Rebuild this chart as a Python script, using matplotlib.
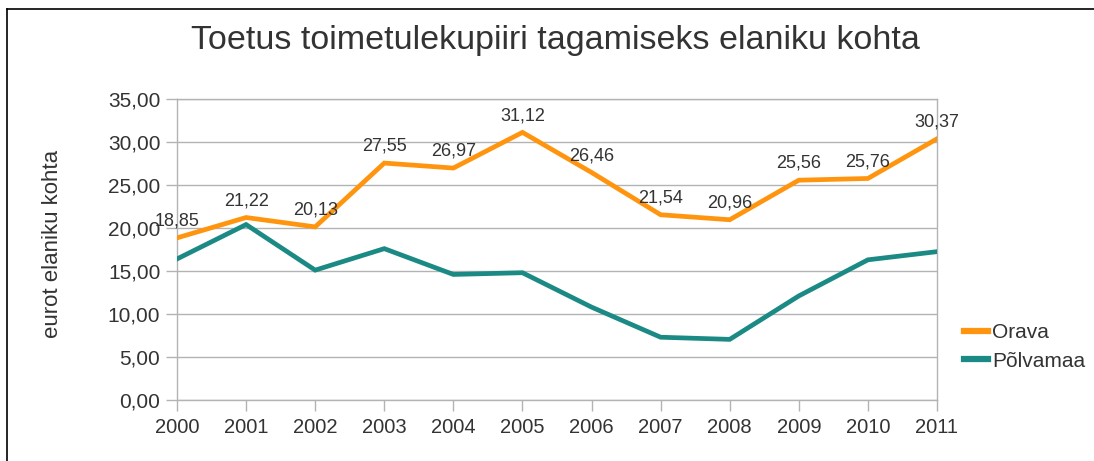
import matplotlib
matplotlib.use("Agg")
import matplotlib.pyplot as plt
from matplotlib.lines import Line2D
from matplotlib.ticker import FuncFormatter, MultipleLocator

plt.rcParams['font.family'] = ['Liberation Sans', 'DejaVu Sans']

years = [2000, 2001, 2002, 2003, 2004, 2005, 2006, 2007, 2008, 2009, 2010, 2011]
orava = [18.85, 21.22, 20.13, 27.55, 26.97, 31.12, 26.46, 21.54, 20.96, 25.56, 25.76, 30.37]
polvamaa = [16.4, 20.4, 15.1, 17.6, 14.6, 14.8, 10.8, 7.3, 7.05, 12.1, 16.3, 17.25]
series_names = ["Orava", "Põlvamaa"]
title = "Toetus toimetulekupiiri tagamiseks elaniku kohta"
ylabel = "eurot elaniku kohta"

W, H = 1094, 461
fig = plt.figure(figsize=(W / 100, H / 100), dpi=100)
ax = fig.add_axes([177 / W, 1 - 400 / H, (937 - 177) / W, (400 - 99) / H])

orange = "#ff950e"
teal = "#1b8a85"
grid_c = "#b3b3b3"
text_c = "#333333"

ax.plot(years, orava, color=orange, lw=3.4, label=series_names[0], solid_joinstyle='miter', zorder=3)
ax.plot(years, polvamaa, color=teal, lw=3.4, label=series_names[1], solid_joinstyle='miter', zorder=3)

for x, v in zip(years, orava):
    ax.annotate(f"{v:.2f}".replace(".", ","), (x, v), xytext=(0, 6), textcoords="offset points",
                ha="center", va="bottom", fontsize=13, color=text_c, zorder=4)

ax.set_xlim(2000, 2011)
ax.set_ylim(0, 35)
ax.yaxis.set_major_locator(MultipleLocator(5))
ax.set_xticks(years)
ax.yaxis.set_major_formatter(FuncFormatter(lambda v, p: f"{v:.2f}".replace(".", ",")))
ax.grid(axis='y', color=grid_c, lw=1.0)
ax.set_axisbelow(True)
for s in ax.spines.values():
    s.set_color(grid_c)
    s.set_linewidth(1.0)
ax.tick_params(axis='both', colors=grid_c, length=8, width=1.0, labelcolor=text_c, labelsize=14.5)
ax.tick_params(axis='y', labelsize=15, pad=4)
ax.tick_params(axis='x', pad=5)

ax.set_ylabel(ylabel, fontsize=16, color=text_c, va="center")
ax.yaxis.set_label_coords(-0.164, 0.52)

fig.text(555 / W, 1 - 40 / H, title, ha="center", va="center", fontsize=24.5, color=text_c)

leg = fig.legend(loc="center left", bbox_to_anchor=(964 / W, 1 - 347 / H), frameon=False,
                 fontsize=15, handlelength=1.15, labelspacing=0.45, handletextpad=0.2,
                 borderpad=0, borderaxespad=0)
for t in leg.get_texts():
    t.set_color(text_c)
for lh in leg.get_lines():
    lh.set_linewidth(4.5)

# figure border (top and left visible)
fig.add_artist(Line2D([7 / W, 1.0], [1 - 9 / H, 1 - 9 / H], transform=fig.transFigure, color="black", lw=1.2))
fig.add_artist(Line2D([7 / W, 7 / W], [1 - 9 / H, 0.0], transform=fig.transFigure, color="black", lw=1.2))

fig.savefig("out.png", dpi=100)
